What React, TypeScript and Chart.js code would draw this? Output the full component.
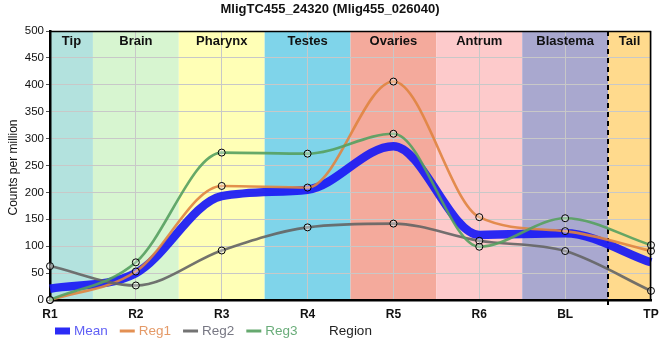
import React, { useEffect, useRef } from 'react';
import { Chart, registerables } from 'chart.js';
Chart.register(...registerables);

const titleText = 'MligTC455_24320 (Mlig455_026040)';
const categories = ['R1', 'R2', 'R3', 'R4', 'R5', 'R6', 'BL', 'TP'];
const meanValues = [21, 50, 193, 205, 286, 121, 124, 70];
const reg1Values = [0, 53, 212, 209, 406, 154, 128, 91];
const reg2Values = [63, 27, 92, 135, 142, 110, 91, 17];
const reg3Values = [0, 70, 274, 272, 309, 99, 152, 102];

const regionNames = ['Tip', 'Brain', 'Pharynx', 'Testes', 'Ovaries', 'Antrum', 'Blastema', 'Tail'];
const regionFrom = [0, 0.5, 1.5, 2.5, 3.5, 4.5, 5.5, 6.5];
const regionTo = [0.5, 1.5, 2.5, 3.5, 4.5, 5.5, 6.5, 7];
const regionColors = ['#b3e2de', '#d7f5d0', '#ffffb6', '#7fd4ea', '#f4aa9c', '#fdcacb', '#a9a8cf', '#ffda8d'];
const dashedAt = 6.5;

const seriesNames = ['Mean', 'Reg1', 'Reg2', 'Reg3'];
const seriesColors = ['rgba(25,25,245,0.92)', 'rgba(224,132,64,0.9)', 'rgba(100,100,100,0.9)', 'rgba(85,160,95,0.9)'];
const legendTextColors = ['#5f5ff5', '#e49a68', '#777783', '#6aad7a'];

export default function App() {
  const ref = useRef<HTMLCanvasElement>(null);
  useEffect(() => {
    document.body.style.margin = '0';
    const canvas = ref.current!;
    const n = categories.length - 1;

    const decorPlugin = {
      id: 'decor',
      beforeDraw(chart: any) {
        const { ctx, chartArea, scales } = chart;
        const x = scales.x;
        const px = (v: number) => x.getPixelForDecimal(v / n);
        ctx.save();
        ctx.fillStyle = '#ffffff';
        ctx.fillRect(0, 0, chart.width, chart.height);
        regionNames.forEach((_, i) => {
          const a = px(regionFrom[i]);
          const b = px(regionTo[i]);
          ctx.fillStyle = regionColors[i];
          ctx.fillRect(a, chartArea.top, b - a, chartArea.bottom - chartArea.top);
        });
        ctx.restore();
      },
      beforeDatasetsDraw(chart: any) {
        const { ctx, chartArea, scales } = chart;
        const x = scales.x;
        const px = (v: number) => x.getPixelForDecimal(v / n);
        ctx.save();
        ctx.fillStyle = '#111';
        ctx.font = 'bold 13px "Liberation Sans", Arial, sans-serif';
        ctx.textAlign = 'center';
        ctx.textBaseline = 'middle';
        regionNames.forEach((name, i) => {
          const a = px(regionFrom[i]);
          const b = px(regionTo[i]);
          ctx.fillText(name, (a + b) / 2, chartArea.top + 10);
        });
        const dx = Math.round(px(dashedAt));
        ctx.strokeStyle = '#000';
        ctx.lineWidth = 2;
        ctx.setLineDash([5, 4]);
        ctx.beginPath();
        ctx.moveTo(dx, chartArea.top);
        ctx.lineTo(dx, chartArea.bottom + 5);
        ctx.stroke();
        ctx.restore();
      },
      afterDraw(chart: any) {
        const { ctx, chartArea } = chart;
        ctx.save();
        ctx.strokeStyle = '#000';
        ctx.lineWidth = 1.5;
        ctx.beginPath();
        ctx.moveTo(chartArea.left, chartArea.top + 0.5);
        ctx.lineTo(chartArea.right - 0.5, chartArea.top + 0.5);
        ctx.lineTo(chartArea.right - 0.5, chartArea.bottom);
        ctx.stroke();
        ctx.fillStyle = '#111';
        ctx.font = 'bold 13px "Liberation Sans", Arial, sans-serif';
        ctx.textAlign = 'center';
        ctx.textBaseline = 'middle';
        ctx.fillText(titleText, chart.width / 2, 9);
        ctx.save();
        ctx.translate(14, (chartArea.top + chartArea.bottom) / 2 + 2);
        ctx.rotate(-Math.PI / 2);
        ctx.font = '12px "Liberation Sans", Arial, sans-serif';
        ctx.fillText('Counts per million', 0, 0);
        ctx.restore();
        const ly = 331;
        let lx = 55;
        ctx.font = '13.5px "Liberation Sans", Arial, sans-serif';
        ctx.textAlign = 'left';
        seriesNames.forEach((name, i) => {
          if (i === 0) {
            ctx.fillStyle = seriesColors[i];
            ctx.fillRect(lx, ly - 3.5, 15, 7);
          } else {
            ctx.strokeStyle = seriesColors[i];
            ctx.lineWidth = 3;
            ctx.beginPath();
            ctx.moveTo(lx, ly);
            ctx.lineTo(lx + 15, ly);
            ctx.stroke();
          }
          ctx.fillStyle = legendTextColors[i];
          ctx.fillText(name, lx + 19, ly);
          lx += 19 + ctx.measureText(name).width + 12;
        });
        ctx.fillStyle = '#222';
        ctx.textAlign = 'center';
        ctx.fillText('Region', (chartArea.left + chartArea.right) / 2, ly);
        ctx.restore();
      },
    };

    const values = [meanValues, reg1Values, reg2Values, reg3Values];
    const datasets = values.map((data, i) => ({
      label: seriesNames[i],
      data,
      borderColor: seriesColors[i],
      backgroundColor: seriesColors[i],
      borderWidth: i === 0 ? 8.5 : 2.6,
      cubicInterpolationMode: 'monotone' as const,
      pointRadius: i === 0 ? 0 : 3.5,
      pointHoverRadius: i === 0 ? 0 : 3.5,
      pointBorderColor: '#000',
      pointBorderWidth: 1,
      pointBackgroundColor: 'rgba(255,255,255,0.35)',
      clip: false as any,
      order: 4 - i,
    }));

    const chart = new Chart(canvas, {
      type: 'line',
      data: { labels: categories, datasets },
      plugins: [decorPlugin],
      options: {
        responsive: false,
        animation: false,
        events: [],
        layout: { padding: { top: 31, left: 0, right: 9, bottom: 0 } },
        plugins: { legend: { display: false }, title: { display: false }, tooltip: { enabled: false } },
        scales: {
          x: {
            offset: false,
            afterFit: (s: any) => { s.height = 60; s.paddingLeft = 0; s.paddingRight = 0; },
            grid: { color: '#c8c8c8', lineWidth: 1, tickLength: 0, drawTicks: false },
            border: { color: '#000', width: 2.5 },
            ticks: { color: '#111', font: { size: 12, weight: 'bold', family: '"Liberation Sans", Arial, sans-serif' }, padding: 7, maxRotation: 0, autoSkip: false },
          },
          y: {
            min: 0,
            max: 500,
            afterFit: (s: any) => { s.width = 50; s.paddingTop = 0; s.paddingBottom = 0; },
            grid: { color: '#c8c8c8', lineWidth: 1, tickLength: 4, tickColor: '#555' },
            border: { color: '#000', width: 2.5 },
            ticks: { stepSize: 50, color: '#111', font: { size: 11.5, family: '"Liberation Sans", Arial, sans-serif' }, padding: 2 },
          },
        },
      },
    });
    return () => chart.destroy();
  }, []);
  return (
    <div style={{ width: 660, height: 360 }}>
      <canvas ref={ref} width={660} height={360} style={{ width: 660, height: 360, display: 'block' }} />
    </div>
  );
}
